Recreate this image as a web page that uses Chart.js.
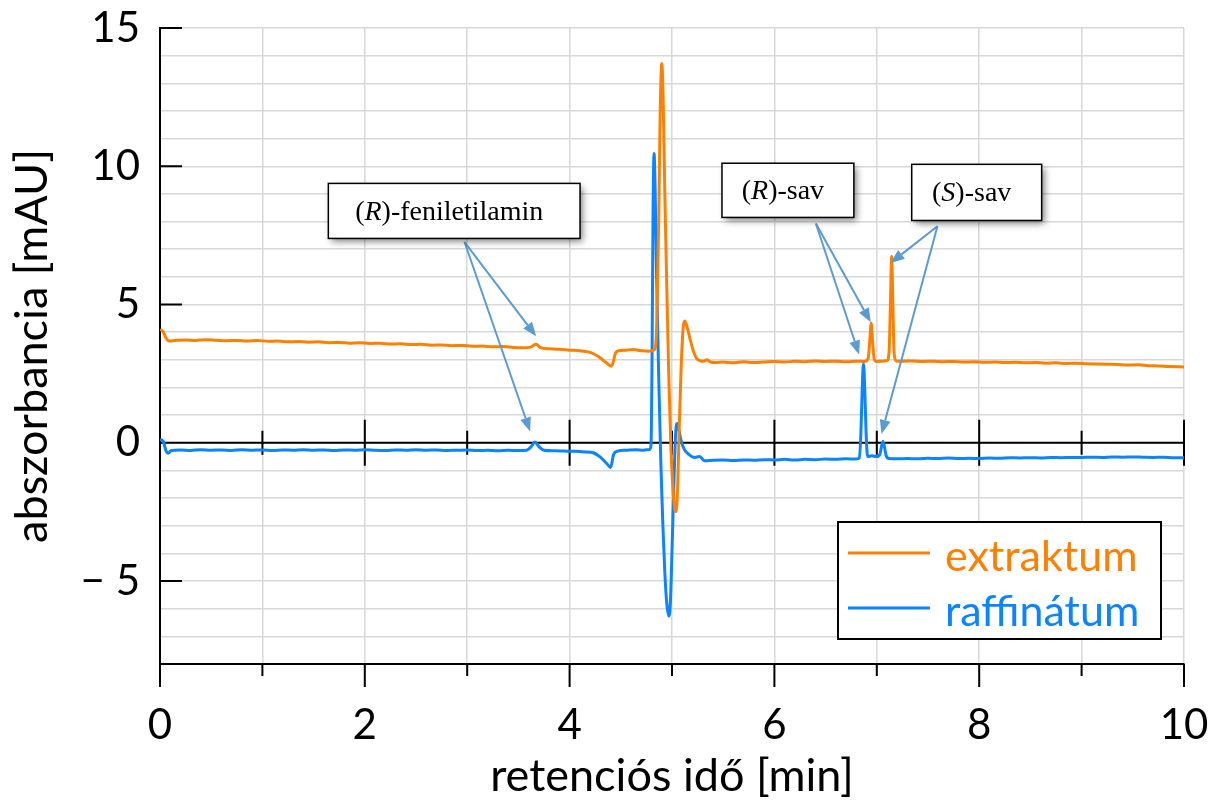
<!DOCTYPE html>
<html lang="hu">
<head>
<meta charset="UTF-8">
<title>Kromatogram – extraktum és raffinátum</title>
<script src="https://cdn.jsdelivr.net/npm/chart.js"></script>
<style>
  html, body { margin: 0; padding: 0; background: #fff; }
  canvas { display: block; }
</style>
</head>
<body>
<canvas id="chromatogram" width="1210" height="805"></canvas>
<script>
// extraktum: retention time [min] / absorbance [mAU]
const extraktumTime = [
  0.00, 0.03, 0.06, 0.09, 0.15, 0.25, 0.35, 0.45, 0.55, 0.65,
  0.75, 0.85, 0.95, 1.05, 1.15, 1.25, 1.35, 1.45, 1.55, 1.65,
  1.75, 1.85, 1.95, 2.05, 2.15, 2.25, 2.35, 2.45, 2.55, 2.65,
  2.75, 2.85, 2.95, 3.05, 3.15, 3.25, 3.35, 3.45, 3.55, 3.62,
  3.67, 3.72, 3.80, 3.90, 4.00, 4.10, 4.20, 4.28, 4.35, 4.41,
  4.45, 4.48, 4.55, 4.62, 4.70, 4.77, 4.83, 4.85, 4.87, 4.885,
  4.90, 4.915, 4.93, 4.95, 4.97, 4.99, 5.01, 5.03, 5.04, 5.055,
  5.07, 5.09, 5.11, 5.125, 5.15, 5.18, 5.21, 5.24, 5.28, 5.31,
  5.34, 5.37, 5.42, 5.50, 5.60, 5.70, 5.80, 5.90, 6.00, 6.10,
  6.20, 6.30, 6.40, 6.50, 6.60, 6.70, 6.80, 6.88, 6.915, 6.93,
  6.945, 6.96, 6.975, 7.00, 7.05, 7.10, 7.12, 7.133, 7.145, 7.157,
  7.17, 7.19, 7.25, 7.35, 7.45, 7.55, 7.65, 7.75, 7.85, 7.95,
  8.05, 8.15, 8.25, 8.35, 8.45, 8.55, 8.65, 8.75, 8.85, 8.95,
  9.05, 9.15, 9.25, 9.35, 9.45, 9.55, 9.65, 9.75, 9.85, 10.00
];
const extraktumAbs = [
  4.10, 4.02, 3.78, 3.68, 3.70, 3.72, 3.70, 3.73, 3.71, 3.69,
  3.70, 3.68, 3.70, 3.67, 3.68, 3.65, 3.66, 3.64, 3.65, 3.62,
  3.63, 3.60, 3.62, 3.59, 3.60, 3.57, 3.58, 3.55, 3.56, 3.53,
  3.54, 3.51, 3.52, 3.49, 3.50, 3.47, 3.48, 3.45, 3.44, 3.46,
  3.56, 3.43, 3.40, 3.38, 3.35, 3.33, 3.27, 3.12, 2.92, 2.77,
  3.25, 3.33, 3.35, 3.37, 3.33, 3.31, 3.38, 4.20, 8.00, 12.00,
  13.72, 12.20, 9.00, 5.50, 2.20, -0.20, -1.70, -2.45, -2.49, -1.60,
  0.50, 2.80, 4.20, 4.40, 4.15, 3.70, 3.30, 3.05, 2.96, 2.95,
  3.00, 2.93, 2.90, 2.92, 2.89, 2.93, 2.90, 2.92, 2.94, 2.92,
  2.95, 2.93, 2.96, 2.94, 2.95, 2.93, 2.95, 2.94, 3.05, 3.60,
  4.32, 3.60, 3.02, 2.94, 2.95, 2.97, 3.30, 5.00, 6.74, 5.00,
  3.20, 2.96, 2.95, 2.96, 2.94, 2.95, 2.93, 2.94, 2.92, 2.93,
  2.91, 2.92, 2.90, 2.91, 2.89, 2.90, 2.88, 2.89, 2.87, 2.88,
  2.86, 2.85, 2.84, 2.83, 2.81, 2.82, 2.79, 2.78, 2.76, 2.74
];

// raffinátum: retention time [min] / absorbance [mAU]
const raffinatumTime = [
  0.00, 0.03, 0.06, 0.08, 0.11, 0.20, 0.30, 0.40, 0.50, 0.60,
  0.70, 0.80, 0.90, 1.00, 1.10, 1.20, 1.30, 1.40, 1.50, 1.60,
  1.70, 1.80, 1.90, 2.00, 2.10, 2.20, 2.30, 2.40, 2.50, 2.60,
  2.70, 2.80, 2.90, 3.00, 3.10, 3.20, 3.30, 3.40, 3.50, 3.58,
  3.63, 3.66, 3.70, 3.75, 3.85, 3.95, 4.05, 4.15, 4.23, 4.30,
  4.36, 4.40, 4.43, 4.47, 4.55, 4.65, 4.72, 4.78, 4.795, 4.805,
  4.815, 4.825, 4.835, 4.85, 4.87, 4.89, 4.91, 4.93, 4.95, 4.97,
  4.985, 5.00, 5.02, 5.035, 5.05, 5.07, 5.09, 5.12, 5.16, 5.22,
  5.27, 5.32, 5.40, 5.50, 5.60, 5.70, 5.80, 5.90, 6.00, 6.10,
  6.20, 6.30, 6.40, 6.50, 6.60, 6.70, 6.78, 6.83, 6.845, 6.858,
  6.87, 6.882, 6.895, 6.91, 6.95, 7.00, 7.03, 7.045, 7.06, 7.075,
  7.09, 7.12, 7.20, 7.30, 7.40, 7.50, 7.60, 7.70, 7.80, 7.90,
  8.00, 8.10, 8.20, 8.30, 8.40, 8.50, 8.60, 8.70, 8.80, 8.90,
  9.00, 9.10, 9.20, 9.30, 9.40, 9.50, 9.60, 9.70, 9.80, 9.90,
  10.00
];
const raffinatumAbs = [
  0.12, 0.06, -0.30, -0.38, -0.28, -0.26, -0.28, -0.25, -0.27, -0.26,
  -0.28, -0.25, -0.27, -0.26, -0.28, -0.26, -0.27, -0.25, -0.27, -0.26,
  -0.28, -0.26, -0.27, -0.25, -0.27, -0.28, -0.26, -0.27, -0.25, -0.27,
  -0.26, -0.28, -0.27, -0.26, -0.28, -0.27, -0.29, -0.27, -0.28, -0.27,
  -0.12, 0.03, -0.14, -0.27, -0.29, -0.30, -0.31, -0.33, -0.36, -0.52,
  -0.74, -0.89, -0.42, -0.30, -0.27, -0.25, -0.27, -0.24, -0.10, 3.00,
  8.40, 10.46, 9.20, 6.00, 2.40, -0.60, -2.90, -4.70, -5.85, -6.27,
  -5.70, -3.90, -1.30, 0.30, 0.70, 0.42, 0.06, -0.24, -0.41, -0.53,
  -0.50, -0.65, -0.63, -0.62, -0.64, -0.62, -0.63, -0.61, -0.62, -0.60,
  -0.62, -0.60, -0.61, -0.59, -0.60, -0.58, -0.59, -0.55, 0.40, 2.00,
  2.85, 2.00, 0.40, -0.50, -0.47, -0.50, -0.42, -0.15, 0.05, -0.15,
  -0.45, -0.57, -0.58, -0.57, -0.58, -0.56, -0.57, -0.55, -0.57, -0.56,
  -0.57, -0.55, -0.56, -0.54, -0.55, -0.54, -0.55, -0.53, -0.54, -0.53,
  -0.53, -0.52, -0.53, -0.51, -0.52, -0.51, -0.52, -0.53, -0.52, -0.54,
  -0.54
];

// axis ranges and labelled ticks
const xRange = [0, 10];
const yRange = [-8, 15];
const xLabelStep = 2;
const yLabelStep = 5;

// peak labels: box corners, arrow start and arrow tips, all in data units
const callouts = [
  { text: [['(', ''], ['R', 'italic '], [')-feniletilamin', '']],
    box: [1.644, 9.38, 4.102, 7.39], from: [2.974, 7.26],
    tips: [[3.673, 3.85], [3.615, 0.41]] },
  { text: [['(', ''], ['R', 'italic '], [')-sav', '']],
    box: [5.488, 10.11, 6.776, 8.15], from: [6.405, 7.93],
    tips: [[6.941, 4.36], [6.827, 3.19]] },
  { text: [['(', ''], ['S', 'italic '], [')-sav', '']],
    box: [7.341, 10.07, 8.61, 8.04], from: [7.592, 7.83],
    tips: [[7.134, 6.50], [7.046, 0.32]] }
];

const ORANGE = '#ff7f00';
const BLUE = '#0a84ff';
const SANS = 'Lato, "Open Sans", sans-serif';
const SERIF = '"Liberation Serif", "DejaVu Serif", serif';

function toPoints(xs, ys) {
  return xs.map((x, i) => ({ x: x, y: ys[i] }));
}

// fixed box sizes, no extra room for overhanging labels
function fixBox(size) {
  return s => {
    if (s.isHorizontal()) s.height = size; else s.width = size;
    s.paddingLeft = s.paddingRight = s.paddingTop = s.paddingBottom = 0;
  };
}

// zero line, tick marks on the left axis, on the zero line and below the x axis
const axisMarks = {
  id: 'axisMarks',
  beforeDatasetsDraw(chart) {
    const { ctx, chartArea: a, scales: { x, y } } = chart;
    const y0 = y.getPixelForValue(0);
    ctx.save();
    ctx.strokeStyle = '#000';
    ctx.lineWidth = 2;
    ctx.beginPath();
    ctx.moveTo(a.left, y0);
    ctx.lineTo(a.right, y0);
    x.ticks.forEach(t => {
      const px = x.getPixelForValue(t.value);
      const len = t.value % xLabelStep === 0 ? 23 : 12;
      if (t.value > xRange[0]) {
        ctx.moveTo(px, y0 - len);
        ctx.lineTo(px, y0 + len);
      }
      ctx.moveTo(px, a.bottom);
      ctx.lineTo(px, a.bottom + len);
    });
    y.ticks.forEach(t => {
      if (t.value % yLabelStep !== 0) return;
      const py = y.getPixelForValue(t.value);
      ctx.moveTo(a.left, py);
      ctx.lineTo(a.left + 22, py);
    });
    ctx.stroke();
    ctx.restore();
  }
};

function arrow(ctx, x1, y1, x2, y2) {
  const ang = Math.atan2(y2 - y1, x2 - x1);
  const head = 14, half = 5.5;
  const bx = x2 - head * Math.cos(ang), by = y2 - head * Math.sin(ang);
  ctx.beginPath();
  ctx.moveTo(x1, y1);
  ctx.lineTo(bx, by);
  ctx.stroke();
  ctx.beginPath();
  ctx.moveTo(x2, y2);
  ctx.lineTo(bx + half * Math.sin(ang), by - half * Math.cos(ang));
  ctx.lineTo(bx - half * Math.sin(ang), by + half * Math.cos(ang));
  ctx.closePath();
  ctx.fill();
}

const peakLabels = {
  id: 'peakLabels',
  afterDatasetsDraw(chart) {
    const { ctx, scales: { x, y } } = chart;
    ctx.save();
    callouts.forEach(c => {
      const bx0 = x.getPixelForValue(c.box[0]), by0 = y.getPixelForValue(c.box[1]);
      const bx1 = x.getPixelForValue(c.box[2]), by1 = y.getPixelForValue(c.box[3]);
      const w = bx1 - bx0, h = by1 - by0;

      // arrows
      ctx.strokeStyle = '#5b9bd5';
      ctx.fillStyle = '#5b9bd5';
      ctx.lineWidth = 2;
      const fx = x.getPixelForValue(c.from[0]), fy = y.getPixelForValue(c.from[1]);
      c.tips.forEach(tp => arrow(ctx, fx, fy, x.getPixelForValue(tp[0]), y.getPixelForValue(tp[1])));

      // box with soft shadow
      ctx.save();
      ctx.shadowColor = 'rgba(0,0,0,0.5)';
      ctx.shadowBlur = 7;
      ctx.shadowOffsetX = 3;
      ctx.shadowOffsetY = 4;
      ctx.fillStyle = '#fff';
      ctx.fillRect(bx0, by0, w, h);
      ctx.restore();
      ctx.strokeStyle = '#000';
      ctx.lineWidth = 1.5;
      ctx.strokeRect(bx0, by0, w, h);

      // mixed upright / italic text
      ctx.fillStyle = '#000';
      ctx.textBaseline = 'alphabetic';
      let total = 0;
      c.text.forEach(p => { ctx.font = p[1] + '28px ' + SERIF; total += ctx.measureText(p[0]).width; });
      let tx = bx0 + (w - total) / 2 - 5;
      const ty = by0 + h * 0.66;
      c.text.forEach(p => {
        ctx.font = p[1] + '28px ' + SERIF;
        ctx.fillText(p[0], tx, ty);
        tx += ctx.measureText(p[0]).width;
      });
    });
    ctx.restore();
  }
};

// legend box in the lower right corner of the plot
const insetLegend = {
  id: 'insetLegend',
  afterDraw(chart) {
    const { ctx, chartArea: a } = chart;
    const w = 323, h = 117;
    const left = a.right - 23 - w, top = a.bottom - 25 - h;
    ctx.save();
    ctx.fillStyle = '#fff';
    ctx.fillRect(left, top, w, h);
    ctx.strokeStyle = '#000';
    ctx.lineWidth = 2;
    ctx.strokeRect(left, top, w, h);
    ctx.font = '43px ' + SANS;
    ctx.textBaseline = 'alphabetic';
    chart.data.datasets.forEach((ds, i) => {
      const ly = top + 31 + i * 55;
      ctx.strokeStyle = ds.borderColor;
      ctx.lineWidth = 3;
      ctx.beginPath();
      ctx.moveTo(left + 10, ly);
      ctx.lineTo(left + 92, ly);
      ctx.stroke();
      ctx.fillStyle = ds.borderColor;
      ctx.fillText(ds.label, left + 107, ly + 18);
    });
    ctx.restore();
  }
};

const tickFont = { family: SANS, size: 42 };
const titleFont = { family: SANS, size: 45 };

new Chart(document.getElementById('chromatogram'), {
  type: 'line',
  data: {
    datasets: [
      { label: 'extraktum', data: toPoints(extraktumTime, extraktumAbs),
        borderColor: ORANGE, borderWidth: 3, pointRadius: 0, cubicInterpolationMode: 'monotone' },
      { label: 'raffinátum', data: toPoints(raffinatumTime, raffinatumAbs),
        borderColor: BLUE, borderWidth: 3, pointRadius: 0, cubicInterpolationMode: 'monotone' }
    ]
  },
  options: {
    responsive: false,
    animation: false,
    devicePixelRatio: 1,
    layout: { padding: { top: 28, right: 26, left: 0, bottom: 0 } },
    plugins: { legend: { display: false }, tooltip: { enabled: false } },
    scales: {
      x: {
        type: 'linear', min: xRange[0], max: xRange[1],
        afterFit: fixBox(141),
        ticks: {
          stepSize: 1, autoSkip: false, maxRotation: 0, padding: 36,
          color: '#000', font: tickFont,
          callback: v => v % xLabelStep === 0 ? String(v) : ''
        },
        grid: { color: '#d8d8d8', lineWidth: 1.5, drawTicks: false },
        border: { color: '#000', width: 2 },
        title: { display: true, text: 'retenciós idő [min]', color: '#000',
                 font: titleFont, padding: { top: 0, bottom: 2 } }
      },
      y: {
        type: 'linear', min: yRange[0], max: yRange[1],
        afterFit: fixBox(160),
        ticks: {
          stepSize: 1, autoSkip: false, padding: 20,
          color: '#000', font: tickFont,
          callback: v => v % yLabelStep === 0 ? (v < 0 ? '\u2212 ' + Math.abs(v) : String(v)) : ''
        },
        grid: { color: '#d8d8d8', lineWidth: 1.5, drawTicks: false },
        border: { color: '#000', width: 2 },
        title: { display: true, text: 'abszorbancia [mAU]', color: '#000',
                 font: titleFont, padding: { top: 5, bottom: 0 } }
      }
    }
  },
  plugins: [axisMarks, peakLabels, insetLegend]
});
</script>
</body>
</html>
